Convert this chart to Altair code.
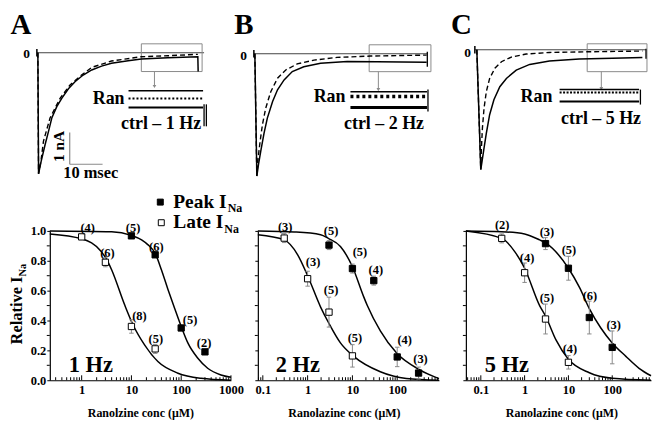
import altair as alt
import pandas as pd

FONT = "Liberation Serif"
GRAY = "#8a8a8a"

# ================= Top row: Na+ current traces (time ms, current nA) =================
A_ctrl_t = [0, 0.21, 1.0, 2.21, 3.24, 4.24, 5.76, 7.27, 9.3, 11.3, 13.8, 16.4, 19.4, 22.4, 27.5, 31.5, 39.6, 48.7, 48.8]
A_ctrl_i = [0, -3.80, -3.41, -2.88, -2.47, -2.05, -1.69, -1.43, -1.13, -0.91, -0.70, -0.54, -0.42, -0.33, -0.25, -0.20, -0.16, -0.125, -0.59]
A_ran_t = [0, 0.21, 1.0, 1.7, 3.7, 6.76, 9.8, 13.3, 16.4, 22.4, 31.5, 39.6, 48.7]
A_ran_i = [0, -3.80, -3.35, -2.78, -2.05, -1.43, -1.01, -0.70, -0.46, -0.26, -0.125, -0.094, -0.05]

B_ctrl_t = [0, 0.6, 1.1, 1.8, 2.8, 3.8, 5.4, 6.9, 8.9, 11.4, 14.9, 20.0, 28.1, 37.2, 52.3]
B_ctrl_i = [0, -3.84, -3.48, -3.06, -2.49, -2.02, -1.50, -1.13, -0.82, -0.56, -0.41, -0.30, -0.24, -0.25, -0.27]
B_ran_t = [0, 0.6, 1.0, 1.6, 2.3, 3.3, 4.85, 6.9, 9.4, 12.9, 18.0, 25.0, 35.2, 52.3]
B_ran_i = [0, -3.84, -3.27, -2.75, -2.23, -1.71, -1.19, -0.77, -0.51, -0.32, -0.20, -0.115, -0.073, -0.042]

C_ctrl_t = [0, 1.2, 1.6, 2.2, 2.9, 3.9, 5.2, 7.0, 9.0, 12.0, 16.1, 22.1, 31.2, 41.3, 50.4]
C_ctrl_i = [0, -3.76, -3.50, -3.08, -2.62, -2.04, -1.57, -1.16, -0.90, -0.64, -0.46, -0.35, -0.29, -0.27, -0.24]
C_ran_t = [0, 1.2, 1.4, 1.7, 2.2, 2.9, 3.9, 5.5, 7.5, 10.5, 15.0, 22.1, 34.2, 50.4]
C_ran_i = [0, -3.76, -3.08, -2.46, -1.83, -1.31, -0.90, -0.58, -0.375, -0.23, -0.135, -0.084, -0.063, -0.04]

# ================= Bottom row: dose-response (conc uM, relative I_Na) =================
A_peak_conc = [10, 30, 100, 300]
A_peak_val = [0.967, 0.84, 0.35, 0.19]
A_peak_err = [0.01, 0.012, 0.015, 0.01]
A_peak_n = ["(5)", "(6)", "(5)", "(2)"]
A_peak_lab_x = [10.8, 31.6, 151, 288]
A_peak_lab_y = [0.99, 0.865, 0.378, 0.225]
A_late_conc = [1, 3, 10, 30]
A_late_val = [0.96, 0.79, 0.36, 0.21]
A_late_err = [0.015, 0.03, 0.045, 0.03]
A_late_n = ["(4)", "(6)", "(8)", "(5)"]
A_late_lab_x = [1.32, 3.3, 14.5, 30.9]
A_late_lab_y = [0.99, 0.825, 0.405, 0.25]

B_peak_conc = [3, 10, 30, 100, 300]
B_peak_val = [0.905, 0.748, 0.667, 0.156, 0.048]
B_peak_err = [0.03, 0.03, 0.03, 0.065, 0.04]
B_peak_n = ["(5)", "(5)", "(4)", "(4)", "(3)"]
B_peak_lab_x = [3.33, 14.7, 33.3, 147, 331]
B_peak_lab_y = [0.975, 0.835, 0.71, 0.24, 0.118]
B_late_conc = [0.3, 1, 3, 10]
B_late_val = [0.952, 0.68, 0.456, 0.163]
B_late_err = [0.03, 0.05, 0.1, 0.075]
B_late_n = ["(3)", "(3)", "(5)", "(5)"]
B_late_lab_x = [0.316, 1.32, 3.33, 11.4]
B_late_lab_y = [1.0, 0.765, 0.575, 0.255]

C_peak_conc = [3, 10, 30, 100]
C_peak_val = [0.915, 0.75, 0.42, 0.22]
C_peak_err = [0.04, 0.08, 0.11, 0.11]
C_peak_n = ["(3)", "(5)", "(6)", "(3)"]
C_peak_lab_x = [3.24, 10.3, 30.9, 108]
C_peak_lab_y = [0.965, 0.845, 0.535, 0.34]
C_late_conc = [0.3, 1, 3, 10]
C_late_val = [0.95, 0.72, 0.41, 0.12]
C_late_err = [0.03, 0.065, 0.1, 0.045]
C_late_n = ["(2)", "(4)", "(5)", "(4)"]
C_late_lab_x = [0.308, 1.14, 3.24, 10.8]
C_late_lab_y = [1.01, 0.795, 0.525, 0.18]

# fitted curves
A_peak_fit_x = [0.229, 4, 10, 16, 21, 30, 40, 54, 74, 100, 136, 216, 340, 630, 1000]
A_peak_fit_y = [1.0, 0.995, 0.97, 0.94, 0.91, 0.85, 0.74, 0.61, 0.48, 0.36, 0.25, 0.147, 0.08, 0.035, 0.02]
A_late_fit_x = [0.229, 1, 2.5, 3.3, 4, 7.4, 10.8, 18.5, 34, 86, 250, 1000]
A_late_fit_y = [0.98, 0.947, 0.86, 0.80, 0.74, 0.50, 0.37, 0.235, 0.125, 0.047, 0.013, 0.0]
B_peak_fit_x = [0.0774, 0.5, 1.95, 2.9, 5.4, 10, 17.8, 21.5, 42, 98, 325, 857]
B_peak_fit_y = [1.0, 0.993, 0.975, 0.95, 0.896, 0.76, 0.56, 0.5, 0.33, 0.18, 0.068, 0.011]
B_late_fit_x = [0.0774, 0.3, 0.6, 1, 1.95, 3, 5.4, 10.7, 42, 160, 857]
B_late_fit_y = [0.975, 0.94, 0.84, 0.70, 0.49, 0.38, 0.25, 0.16, 0.057, 0.012, 0.0]
C_peak_fit_x = [0.0456, 0.3, 1, 2.2, 3, 10, 18, 30, 55, 100, 205, 410, 769]
C_peak_fit_y = [1.0, 0.995, 0.98, 0.94, 0.92, 0.75, 0.62, 0.48, 0.35, 0.25, 0.16, 0.08, 0.03]
C_late_fit_x = [0.0456, 0.3, 0.6, 1, 2.2, 3, 5.2, 10, 30, 100, 769]
C_late_fit_y = [1.0, 0.95, 0.86, 0.75, 0.5, 0.43, 0.27, 0.14, 0.05, 0.013, 0.0]

Y_MAJOR = [0.0, 0.2, 0.4, 0.6, 0.8, 1.0]
Y_MINOR = [0.1, 0.3, 0.5, 0.7, 0.9]

PANEL_W = [182, 182, 186]
TOP_H = 190
BOT_H = 150


def bold_text(data, X, Y, size, align="center", baseline="alphabetic", angle=0):
    return alt.Chart(data).mark_text(
        font=FONT, fontWeight="bold", fontSize=size, align=align,
        baseline=baseline, angle=angle, color="black"
    ).encode(x=X("x"), y=Y("y"), text="s:N")


def top_panel(P, width):
    xs = alt.Scale(domain=P["tdom"], nice=False, zero=False)
    ys = alt.Scale(domain=P["idom"], nice=False, zero=False)
    X = lambda f: alt.X(f"{f}:Q", scale=xs, axis=None)
    Y = lambda f: alt.Y(f"{f}:Q", scale=ys, axis=None)

    layers = []
    layers.append(alt.Chart(pd.DataFrame({"x": [P["zero"][0]], "x2": [P["zero"][1]], "y": [0.0]}))
                  .mark_rule(color="#444444", strokeWidth=1)
                  .encode(x=X("x"), x2=alt.X2("x2:Q"), y=Y("y")))
    layers.append(alt.Chart(pd.DataFrame({"x": [P["zero"][0]], "y": [0.12], "y2": [-0.12]}))
                  .mark_rule(color="black", strokeWidth=1.5)
                  .encode(x=X("x"), y=Y("y"), y2=alt.Y2("y2:Q")))
    b = P["box"]
    layers.append(alt.Chart(pd.DataFrame({"x": [b[0]], "x2": [b[1]], "y": [b[2]], "y2": [b[3]]}))
                  .mark_rect(fillOpacity=0, stroke=GRAY, strokeWidth=1)
                  .encode(x=X("x"), x2=alt.X2("x2:Q"), y=Y("y"), y2=alt.Y2("y2:Q")))
    a = P["arrow"]
    layers.append(alt.Chart(pd.DataFrame({"x": [a[0]], "y": [a[1]], "y2": [a[2]]}))
                  .mark_rule(color=GRAY, strokeWidth=1)
                  .encode(x=X("x"), y=Y("y"), y2=alt.Y2("y2:Q")))
    layers.append(alt.Chart(pd.DataFrame({"x": [a[0]], "y": [a[2]]}))
                  .mark_point(shape="triangle-down", size=14, filled=True, color=GRAY, opacity=1)
                  .encode(x=X("x"), y=Y("y")))
    layers.append(alt.Chart(pd.DataFrame({"x": P["ctrl_t"], "y": P["ctrl_i"]}))
                  .mark_line(color="black", strokeWidth=1.5)
                  .encode(x=X("x"), y=Y("y")))
    layers.append(alt.Chart(pd.DataFrame({"x": P["ran_t"], "y": P["ran_i"]}))
                  .mark_line(color="black", strokeWidth=1.4, strokeDash=[5, 3])
                  .encode(x=X("x"), y=Y("y")))
    ins = P["inset"]
    layers.append(alt.Chart(pd.DataFrame({"x": [ins["x"][0]], "x2": [ins["x"][1]], "y": [ins["zero"]]}))
                  .mark_rule(color="black", strokeWidth=1.5)
                  .encode(x=X("x"), x2=alt.X2("x2:Q"), y=Y("y")))
    layers.append(alt.Chart(pd.DataFrame({"x": [ins["x"][0]], "x2": [ins["x"][1]], "y": [ins["ran"]]}))
                  .mark_rule(color="black", strokeWidth=ins["ran_w"], strokeDash=ins["dash"])
                  .encode(x=X("x"), x2=alt.X2("x2:Q"), y=Y("y")))
    layers.append(alt.Chart(pd.DataFrame({"x": [ins["x"][0]], "x2": [ins["x"][1]], "y": [ins["ctrl"]]}))
                  .mark_rule(color="black", strokeWidth=ins["ctrl_w"])
                  .encode(x=X("x"), x2=alt.X2("x2:Q"), y=Y("y")))
    ends = P["ends"]
    layers.append(alt.Chart(pd.DataFrame({"x": ends["x"], "y": ends["y"], "y2": ends["y2"]}))
                  .mark_rule(color="black", strokeWidth=1.3)
                  .encode(x=X("x"), y=Y("y"), y2=alt.Y2("y2:Q")))
    if "bar" in P:
        sb = P["bar"]
        layers.append(alt.Chart(pd.DataFrame({"x": [sb["t0"]], "y": [sb["i0"]], "y2": [sb["i1"]]}))
                      .mark_rule(color=GRAY, strokeWidth=1.2)
                      .encode(x=X("x"), y=Y("y"), y2=alt.Y2("y2:Q")))
        layers.append(alt.Chart(pd.DataFrame({"x": [sb["t0"]], "x2": [sb["t1"]], "y": [sb["i1"]]}))
                      .mark_rule(color=GRAY, strokeWidth=1.2)
                      .encode(x=X("x"), x2=alt.X2("x2:Q"), y=Y("y")))
        layers.append(bold_text(pd.DataFrame({"x": [sb["nA"][0]], "y": [sb["nA"][1]], "s": ["1 nA"]}),
                                X, Y, 15.5, "center", "middle", 270))
        layers.append(bold_text(pd.DataFrame({"x": [sb["ms"][0]], "y": [sb["ms"][1]], "s": ["10 msec"]}),
                                X, Y, 16.5, "center"))
    L = P["letter"]
    layers.append(bold_text(pd.DataFrame({"x": [L[0]], "y": [L[1]], "s": [L[2]]}), X, Y, 29, "center"))
    Z = P["zlab"]
    layers.append(bold_text(pd.DataFrame({"x": [Z[0]], "y": [Z[1]], "s": ["0"]}), X, Y, 13.5, "right", "middle"))
    R = P["ran_lab"]
    layers.append(bold_text(pd.DataFrame({"x": [R[0]], "y": [R[1]], "s": ["Ran"]}), X, Y, 18, "right"))
    Cl = P["ctrl_lab"]
    layers.append(bold_text(pd.DataFrame({"x": [Cl[0]], "y": [Cl[1]], "s": [Cl[2]]}), X, Y, 18, "right"))
    return alt.layer(*layers).properties(width=width, height=TOP_H)


def ticks_split(lo, hi):
    major, minor = [], []
    for e in range(-2, 4):
        for m in range(1, 10):
            v = round(m * 10.0 ** e, 6)
            if lo <= v <= hi:
                (major if m == 1 else minor).append(v)
    return major, minor


def bottom_panel(P, width, first):
    xs = alt.Scale(type="log", domain=P["xdom"], nice=False)
    ys = alt.Scale(domain=[0, 1], nice=False, zero=False)
    major, minor = ticks_split(*P["xdom"])
    xaxis = alt.Axis(values=major, format="~g", ticks=False, tickSize=0, labelPadding=3,
                     labelFont=FONT, labelFontWeight="bold", labelFontSize=12.5, labelColor="black",
                     labelFlush=False, labelOverlap=False,
                     domainColor="black", domainWidth=1.2, grid=False,
                     title=P["xtitle"], titleFont=FONT, titleFontWeight="bold", titleFontSize=12,
                     titleColor="black", titlePadding=12, titleX=P["titleX"])
    if first:
        yaxis = alt.Axis(values=Y_MAJOR, format=".1f", tickSize=3, tickColor="black", labelPadding=1,
                         labelFont=FONT, labelFontWeight="bold", labelFontSize=12.5, labelColor="black",
                         labelFlush=False, labelOverlap=False, labelBound=False,
                         domainColor="black", domainWidth=1.2, grid=False, title=None)
    else:
        yaxis = alt.Axis(values=Y_MAJOR, labels=False, tickSize=3, tickColor="black",
                         domainColor="black", domainWidth=1.2, grid=False, title=None)
    X = lambda f: alt.X(f"{f}:Q", scale=xs, axis=xaxis)
    Y = lambda f: alt.Y(f"{f}:Q", scale=ys, axis=yaxis)

    fit = pd.concat([
        pd.DataFrame({"x": P["peak_fit"][0], "y": P["peak_fit"][1], "series": "Peak"}),
        pd.DataFrame({"x": P["late_fit"][0], "y": P["late_fit"][1], "series": "Late"}),
    ])
    pts = pd.concat([
        pd.DataFrame({"x": P["peak"][0], "y": P["peak"][1], "err": P["peak"][2], "series": "Peak"}),
        pd.DataFrame({"x": P["late"][0], "y": P["late"][1], "err": P["late"][2], "series": "Late"}),
    ])
    pts["lo"] = pts["y"] - pts["err"]
    pts["hi"] = pts["y"] + pts["err"]
    labs = pd.concat([
        pd.DataFrame({"x": P["peak_lab"][0], "y": P["peak_lab"][1], "s": P["peak"][3]}),
        pd.DataFrame({"x": P["late_lab"][0], "y": P["late_lab"][1], "s": P["late"][3]}),
    ])
    xtick_df = pd.DataFrame({"x": major + minor, "y": [0.0] * (len(major) + len(minor)),
                             "y2": [0.033] * len(major) + [0.02] * len(minor)})
    x0 = P["xdom"][0]
    ytick_df = pd.DataFrame({"x": [x0] * len(Y_MINOR), "x2": [x0 * P["ytick_f"]] * len(Y_MINOR), "y": Y_MINOR})

    layers = [
        alt.Chart(fit).mark_line(color="black", strokeWidth=1.5, interpolate="monotone")
        .encode(x=X("x"), y=Y("y"), detail="series:N"),
        alt.Chart(xtick_df).mark_rule(color="black", strokeWidth=1)
        .encode(x=X("x"), y=Y("y"), y2=alt.Y2("y2:Q")),
        alt.Chart(ytick_df).mark_rule(color="black", strokeWidth=1)
        .encode(x=X("x"), x2=alt.X2("x2:Q"), y=Y("y")),
        alt.Chart(pts).mark_rule(color=GRAY, strokeWidth=1)
        .encode(x=X("x"), y=Y("lo"), y2=alt.Y2("hi:Q")),
        alt.Chart(pts).mark_point(shape="stroke", size=20, color=GRAY, strokeWidth=1, opacity=1)
        .encode(x=X("x"), y=Y("lo")),
        alt.Chart(pts).mark_point(shape="stroke", size=20, color=GRAY, strokeWidth=1, opacity=1)
        .encode(x=X("x"), y=Y("hi")),
        alt.Chart(pts).mark_square(size=40, stroke="black", strokeWidth=1, opacity=1)
        .encode(x=X("x"), y=Y("y"),
                color=alt.Color("series:N", scale=alt.Scale(domain=["Peak", "Late"], range=["black", "white"]),
                                legend=None)),
        bold_text(labs, X, Y, 12.5, "center"),
        bold_text(pd.DataFrame({"x": [P["hz"][0]], "y": [P["hz"][1]], "s": [P["hz"][2]]}), X, Y, 22.5, "left"),
    ]
    if first:
        layers.append(bold_text(pd.DataFrame({"x": [0.0646], "y": [0.24], "s": ["Relative I"]}),
                                X, Y, 16.5, "left", "alphabetic", 270))
        layers.append(bold_text(pd.DataFrame({"x": [0.075], "y": [0.695], "s": ["Na"]}),
                                X, Y, 10.5, "left", "alphabetic", 270))
        leg = pd.DataFrame({"x": [38, 39.8], "y": [1.193, 1.055], "series": ["Peak", "Late"]})
        layers.append(alt.Chart(leg).mark_square(size=36, stroke="black", strokeWidth=1, opacity=1)
                      .encode(x=X("x"), y=Y("y"),
                              color=alt.Color("series:N", scale=alt.Scale(domain=["Peak", "Late"],
                                                                          range=["black", "white"]), legend=None)))
        layers.append(bold_text(pd.DataFrame({"x": [69.2, 69.2], "y": [1.153, 1.02], "s": ["Peak I", "Late I"]}),
                                X, Y, 19.5, "left"))
        layers.append(bold_text(pd.DataFrame({"x": [860, 735], "y": [1.127, 0.987], "s": ["Na", "Na"]}),
                                X, Y, 12, "left"))
    return alt.layer(*layers).properties(width=width, height=BOT_H)


TOP = [
    dict(tdom=[3.636, 58.79], idom=[-4.656, 1.281], ctrl_t=A_ctrl_t, ctrl_i=A_ctrl_i, ran_t=A_ran_t, ran_i=A_ran_i,
         zero=[-0.3, 50.6], box=[31.5, 50.0, 0.28, -0.59], arrow=[35.5, -0.59, -1.06],
         inset=dict(x=[27.6, 50.3], zero=-1.19, ran=-1.44, ctrl=-1.72, ran_w=2, ctrl_w=2, dash=[2, 2]),
         ends=dict(x=[50.6, 51.3], y=[-1.62, -1.62], y2=[-2.31, -2.31]),
         bar=dict(t0=9.7, t1=19.7, i0=-2.5, i1=-3.5, nA=[6.36, -2.94], ms=[16.1, -3.94]),
         letter=[-5.15, 0.594, "A"], zlab=[-2.42, -0.03], ran_lab=[26.4, -1.594], ctrl_lab=[49.7, -2.406, "ctrl – 1 Hz"]),
    dict(tdom=[0.909, 56.06], idom=[-4.625, 1.3125], ctrl_t=B_ctrl_t, ctrl_i=B_ctrl_i, ran_t=B_ran_t, ran_i=B_ran_i,
         zero=[-0.3, 52.7], box=[34.8, 53.6, 0.281, -0.5625], arrow=[37.6, -0.5625, -1.125],
         inset=dict(x=[29.1, 52.4], zero=-1.19, ran=-1.344, ctrl=-1.69, ran_w=3.5, ctrl_w=3, dash=[3, 3]),
         ends=dict(x=[52.5, 52.7], y=[0.06, -1.12], y2=[-0.41, -1.81]),
         letter=[-3.33, 0.625, "B"], zlab=[-2.42, -0.06], ran_lab=[27.6, -1.5], ctrl_lab=[51.5, -2.375, "ctrl – 2 Hz"]),
    dict(tdom=[-3.333, 53.03], idom=[-4.75, 1.1875], ctrl_t=C_ctrl_t, ctrl_i=C_ctrl_i, ran_t=C_ran_t, ran_i=C_ran_i,
         zero=[-0.6, 51.5], box=[33.6, 51.8, 0.1875, -0.6875], arrow=[37.9, -0.6875, -1.22],
         inset=dict(x=[25.2, 49.4], zero=-1.25, ran=-1.344, ctrl=-1.625, ran_w=2, ctrl_w=2, dash=[2, 1.5]),
         ends=dict(x=[51.5, 49.8], y=[0.03, -1.25], y2=[-0.28, -1.72]),
         letter=[-4.7, 0.5, "C"], zlab=[-1.8, -0.094], ran_lab=[23.0, -1.625], ctrl_lab=[50.0, -2.34, "ctrl – 5 Hz"]),
]

BOT = [
    dict(xdom=[0.229, 1000], xtitle="Ranolzine conc (μM)", titleX=91, ytick_f=0.87,
         peak=[A_peak_conc, A_peak_val, A_peak_err, A_peak_n], late=[A_late_conc, A_late_val, A_late_err, A_late_n],
         peak_lab=[A_peak_lab_x, A_peak_lab_y], late_lab=[A_late_lab_x, A_late_lab_y],
         peak_fit=[A_peak_fit_x, A_peak_fit_y], late_fit=[A_late_fit_x, A_late_fit_y], hz=[0.55, 0.053, "1 Hz"]),
    dict(xdom=[0.0774, 857], xtitle="Ranolazine conc (μM)", titleX=86.5, ytick_f=0.857,
         peak=[B_peak_conc, B_peak_val, B_peak_err, B_peak_n], late=[B_late_conc, B_late_val, B_late_err, B_late_n],
         peak_lab=[B_peak_lab_x, B_peak_lab_y], late_lab=[B_late_lab_x, B_late_lab_y],
         peak_fit=[B_peak_fit_x, B_peak_fit_y], late_fit=[B_late_fit_x, B_late_fit_y], hz=[0.194, 0.053, "2 Hz"]),
    dict(xdom=[0.0456, 769], xtitle="Ranolazine conc (μM)", titleX=96, ytick_f=0.855,
         peak=[C_peak_conc, C_peak_val, C_peak_err, C_peak_n], late=[C_late_conc, C_late_val, C_late_err, C_late_n],
         peak_lab=[C_peak_lab_x, C_peak_lab_y], late_lab=[C_late_lab_x, C_late_lab_y],
         peak_fit=[C_peak_fit_x, C_peak_fit_y], late_fit=[C_late_fit_x, C_late_fit_y], hz=[0.123, 0.053, "5 Hz"]),
]

cells = [top_panel(TOP[i], PANEL_W[i]) for i in range(3)] + \
        [bottom_panel(BOT[i], PANEL_W[i], i == 0) for i in range(3)]

chart = alt.concat(*cells, columns=3, spacing={"row": 30, "column": 27}, bounds="flush").properties(
    padding={"left": 1, "top": 1, "right": 2, "bottom": 0},
    background="white",
).configure_view(strokeWidth=0)

chart.save("out.html", embed_options={"renderer": "svg", "actions": False})
